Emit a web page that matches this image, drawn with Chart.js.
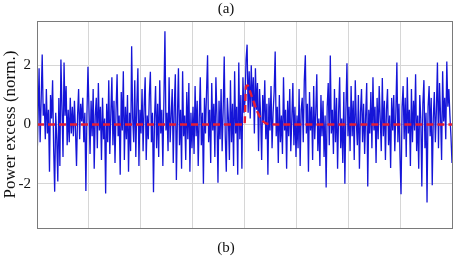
<!DOCTYPE html>
<html>
<head>
<meta charset="utf-8">
<script src="https://cdn.jsdelivr.net/npm/chart.js@4/dist/chart.umd.min.js"></script>
<style>
  body { margin: 0; background: #fff; }
  canvas { display: block; }
</style>
</head>
<body>
<canvas id="chart" width="460" height="260"></canvas>
<script>
// measured signal, 50 samples per grid division (8 divisions)
const blueDiv0 = [-1.3, 0.2, 1.9, -0.6, 0.8, 2.37, 0.3, 0.7, -0.5, 1.2, -0.3, 0.5, -1.6, 1.0, 0.2, 1.5, -0.8, -2.27, 0.4, -0.5, -1.93, 0.9, -1.4, 2.2, 0.6, -1.1, 2.1, 0.3, 1.3, -0.7, 0.5, -0.6, 0.9, -0.3, 0.6, -0.4, 0.8, -0.2, -1.4, 0.3, 1.2, -0.5, 0.7, 0.1, 0.9, -0.6, 0.4, -2.25, 0.3, 1.95];
const blueDiv1 = [0.5, -1.0, 0.8, -0.4, 1.2, -1.5, 0.3, 0.9, -0.8, 1.4, -0.2, 0.6, -1.2, 0.9, -0.5, 0.2, -2.33, 0.7, -0.6, 1.5, -1.0, 0.4, 1.6, -0.7, 0.8, -1.3, 0.5, 1.7, -0.4, 0.3, -1.7, 1.1, -0.2, 1.8, -1.2, 0.6, -0.5, 1.0, -1.6, 0.4, -0.9, 2.65, 0.2, -0.6, 1.5, -1.1, 0.7, 1.9, -1.4, 0.5];
const blueDiv2 = [-0.3, 1.2, -0.9, 0.6, 1.6, -1.2, 0.3, -0.5, 1.0, 1.78, -0.6, 0.4, -2.29, 0.2, 1.3, -0.8, 0.7, -1.1, 1.5, -0.3, 0.5, -1.4, 0.8, 3.15, -0.2, 0.4, -0.9, 1.6, -0.6, 0.3, 1.2, -1.3, 0.6, 1.7, -1.88, 0.2, 1.9, -0.7, 0.5, -1.5, 1.8, -0.4, 0.3, -1.2, 1.1, -0.5, 1.4, -1.6, 0.4, -0.8];
const blueDiv3 = [0.6, -1.0, 1.3, -0.4, 0.8, -1.4, 0.2, 1.6, -0.7, 0.4, -2.0, 0.9, -0.3, 1.1, 2.34, -0.6, 0.5, -1.3, 1.4, -0.2, 0.7, -1.1, 1.6, 0.3, -1.97, 0.8, -0.5, 1.2, -0.9, 0.5, 2.3, -0.4, -1.6, 0.9, 0.2, -1.2, 1.5, -0.6, 0.7, -1.4, 1.8, -0.3, 0.6, -1.7, 2.1, -0.5, 1.0, -1.5, 1.6, 0.4];
const blueDiv4 = [0.8, 2.2, 2.7, 0.4, 1.8, 0.2, 2.0, 0.6, 1.6, -0.3, 1.9, 0.5, 1.4, -0.9, 1.2, 0.3, -1.2, 1.0, 0.1, 1.5, -0.5, 0.7, -1.7, 0.9, -0.2, 1.3, -0.8, 0.4, 1.1, 2.47, -0.4, 0.6, -1.3, 1.0, -0.6, 0.3, -1.0, 1.6, -0.2, 0.5, -1.5, 0.8, -0.4, 1.2, -0.9, 0.2, 1.4, -0.7, 0.6, -1.1];
const blueDiv5 = [0.3, -0.8, 1.2, -1.4, 0.5, 0.9, -0.6, 1.5, 2.34, -0.3, 0.7, -1.6, 1.1, -0.2, 0.6, -1.2, 1.3, -0.5, 0.4, 1.7, -0.9, 0.2, -1.4, 1.0, -0.4, 0.8, -1.1, 0.3, -2.13, 0.6, 1.4, -0.7, 2.33, -0.3, 0.5, -1.0, 1.2, -0.6, 0.9, -1.5, 0.4, 1.6, -0.8, 0.2, -1.3, 1.1, -2.0, 0.5, 2.07, -0.4];
const blueDiv6 = [0.6, -0.9, 1.3, -0.4, 0.8, -1.2, 1.5, 0.1, -0.7, 1.0, -1.5, 0.4, 1.2, -0.6, 0.7, -1.0, 0.3, 1.4, -2.1, 0.5, -0.3, 1.1, -0.8, 1.6, -0.2, 0.6, -1.3, 0.9, -0.5, 1.3, 0.2, -0.9, 1.57, -0.4, 0.8, -1.2, 0.5, 1.2, -0.7, 0.3, -1.47, 0.9, -0.2, 1.0, -0.9, 0.4, 2.1, -0.6, 0.7, -1.1];
const blueDiv7 = [-2.36, 0.6, 1.3, -0.5, 0.9, -1.1, 1.6, -0.3, 0.5, -1.4, 1.2, -0.6, 0.8, -0.2, 1.7, -0.9, 0.3, -1.5, 1.0, 0.2, -2.1, 0.7, 1.5, -0.8, 0.4, -2.64, 0.6, 1.3, -0.4, 0.9, -2.05, 0.2, 1.1, -0.6, 0.5, 2.1, -0.8, 1.4, 0.3, -1.2, 1.8, 0.1, 0.9, -0.5, 2.13, 0.6, 1.2, 0.3, -0.4, -1.3];

// model (red dashed) pulse
const redX = [0, 4.0, 4.03, 4.06, 4.1, 4.15, 4.2, 4.25, 4.3, 4.35, 4.4, 4.5, 4.6, 8];
const redY = [0, 0, 1.3, 1.32, 1.15, 0.9, 0.65, 0.42, 0.25, 0.12, 0.05, 0.01, 0, 0];

const xMin = 0, xMax = 8;
const yTicks = [-2, 0, 2];

const blue = [].concat(blueDiv0, blueDiv1, blueDiv2, blueDiv3, blueDiv4, blueDiv5, blueDiv6, blueDiv7);
const step = (xMax - xMin) / (blue.length - 1);
const bluePts = blue.map((v, i) => ({ x: xMin + i * step, y: v }));
const redPts = redX.map((x, i) => ({ x: x, y: redY[i] }));

const serif = "'Liberation Serif', 'Times New Roman', serif";
Chart.defaults.font.family = serif;
Chart.defaults.color = "#111";

const frame = {
  id: "frame",
  afterDraw(chart) {
    const a = chart.chartArea, ctx = chart.ctx;
    ctx.save();
    ctx.strokeStyle = "#7a7a7a";
    ctx.lineWidth = 1;
    ctx.strokeRect(Math.round(a.left) + 0.5, Math.round(a.top) + 0.5,
      Math.round(a.right - a.left), Math.round(a.bottom - a.top));
    ctx.restore();
  },
};

new Chart(document.getElementById("chart").getContext("2d"), {
  type: "line",
  data: {
    datasets: [
      {
        label: "model",
        data: redPts,
        borderColor: "#e41c36",
        borderWidth: 2.4,
        borderDash: [7, 4],
        pointRadius: 0,
        cubicInterpolationMode: "monotone",
        fill: false,
      },
      {
        label: "signal",
        data: bluePts,
        borderColor: "#1515d8",
        borderWidth: 1.3,
        pointRadius: 0,
        tension: 0,
        fill: false,
      },
    ],
  },
  options: {
    responsive: false,
    animation: false,
    layout: { padding: { left: 0, right: 8, top: 0, bottom: 0 } },
    plugins: {
      legend: { display: false },
      tooltip: { enabled: false },
      title: {
        display: true,
        text: "(a)",
        font: { family: serif, size: 15, weight: "normal" },
        padding: { top: 0, bottom: 3 },
      },
      subtitle: {
        display: true,
        text: "(b)",
        position: "bottom",
        font: { family: serif, size: 15, weight: "normal" },
        padding: { top: 11, bottom: 3 },
      },
    },
    scales: {
      x: {
        type: "linear",
        min: xMin,
        max: xMax,
        ticks: { display: false, stepSize: 1 },
        grid: { color: "#d6d6d6", drawTicks: false },
        border: { display: false },
      },
      y: {
        min: -3.5,
        max: 3.5,
        afterBuildTicks: (scale) => {
          scale.ticks = yTicks.map((v) => ({ value: v }));
        },
        afterFit: (scale) => {
          scale.width = 37;
        },
        ticks: {
          font: { family: serif, size: 15 },
          padding: 6,
        },
        grid: { color: "#d6d6d6", drawTicks: false },
        border: { display: false },
        title: {
          display: true,
          text: "Power excess (norm.)",
          font: { family: serif, size: 17 },
          padding: { top: 0, bottom: 0 },
        },
      },
    },
  },
  plugins: [frame],
});
</script>
</body>
</html>
